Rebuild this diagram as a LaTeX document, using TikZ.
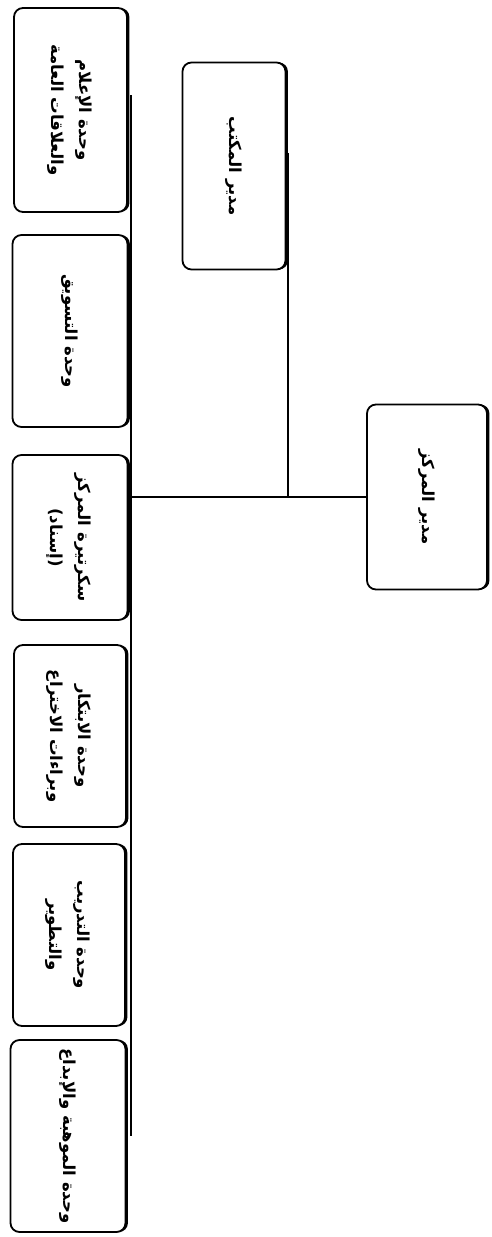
\documentclass[tikz,border=0pt]{standalone}
\usepackage{fontspec}
\usepackage{graphicx}
\usetikzlibrary{shadows}
\TeXXeTstate=1
\newfontfamily\arabicfont[Script=Arabic]{DejaVu Sans}
\newcommand{\arone}[1]{\rotatebox{-90}{\arabicfont\bfseries\fontsize{16.5}{27}\selectfont #1}}
\newcommand{\artwo}[2]{\rotatebox{-90}{\arabicfont\bfseries\fontsize{16.5}{27}\selectfont\begin{tabular}{@{}c@{}}#1\\[1pt] #2\end{tabular}}}
\tikzset{
  unitbox/.style={draw=black, line width=1.8pt, fill=white, rounded corners=9pt,
    inner sep=0pt, drop shadow={shadow xshift=2.4pt, shadow yshift=0pt, fill=black, opacity=1}},
  link/.style={draw=black, line width=2.8pt}
}
\begin{document}
\begin{tikzpicture}[x=1pt,y=-1pt]
\useasboundingbox[fill=white] (0,0) rectangle (491,1237);
% left column
\node[unitbox, minimum width=113pt, minimum height=204pt] (A) at (70.5,110) {\artwo{\beginR وحدة الإعلام\endR}{\beginR والعلاقات العامة\endR}};
\node[unitbox, minimum width=115pt, minimum height=192pt] (B) at (70,331) {\arone{\beginR وحدة التسويق\endR}};
\node[unitbox, minimum width=115pt, minimum height=165pt] (C) at (70,537.5) {\artwo{\beginR سكرتيرة المركز\endR}{\beginR (إسناد)\endR}};
\node[unitbox, minimum width=112pt, minimum height=182pt] (D) at (70,736) {\artwo{\beginR وحدة الابتكار\endR}{\beginR وبراءات الاختراع\endR}};
\node[unitbox, minimum width=112pt, minimum height=182pt] (E) at (69,935) {\artwo{\beginR وحدة التدريب\endR}{\beginR والتطوير\endR}};
\node[unitbox, minimum width=115pt, minimum height=192pt] (F) at (68,1136) {\arone{\beginR وحدة الموهبة والإبداع\endR}};
% upper boxes
\node[unitbox, minimum width=103pt, minimum height=207pt] (OM) at (234,166) {\arone{\beginR مدير المكتب\endR}};
\node[unitbox, minimum width=120pt, minimum height=185pt] (DIR) at (427,497) {\arone{\beginR مدير المركز\endR}};
% connectors
\coordinate (bustop) at ([xshift=3pt,yshift=15pt]A.east);
\coordinate (busbot) at (bustop |- F.east);
\draw[link] (bustop) -- (busbot);
\draw[link] (DIR.west) -- (DIR.west -| bustop);
\draw[link] ([xshift=1.5pt,yshift=13pt]OM.east) -- ([xshift=1.5pt]OM.east |- DIR.west);
\end{tikzpicture}
\end{document}
